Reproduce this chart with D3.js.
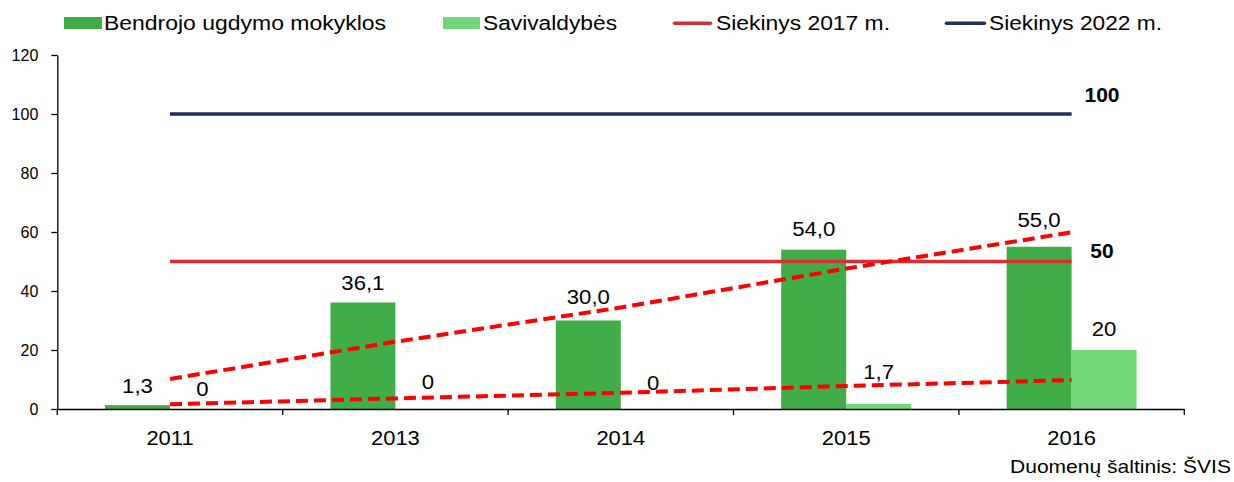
<!DOCTYPE html>
<html>
<head>
<meta charset="utf-8">
<script src="https://cdn.jsdelivr.net/npm/d3@7"></script>
<style>
  body { margin: 0; background: #fff; }
  text { font-family: "Liberation Sans", Arial, sans-serif; fill: #000; }
</style>
</head>
<body>
<svg id="chart" width="1234" height="482"></svg>
<script>
// data
var years = ["2011", "2013", "2014", "2015", "2016"];
var schools = [1.3, 36.1, 30.0, 54.0, 55.0];        // Bendrojo ugdymo mokyklos
var municipalities = [0, 0, 0, 1.7, 20];            // Savivaldybės
var schoolsLabels = ["1,3", "36,1", "30,0", "54,0", "55,0"];
var municipalitiesLabels = ["0", "0", "0", "1,7", "20"];
var schoolsTrend = [10.2, 22.8, 34.4, 47.6, 59.9];  // dashed trend
var municipalitiesTrend = [1.6, 3.6, 5.5, 7.8, 9.8];
var target2017 = 50;
var target2022 = 100;
var yTicks = [0, 20, 40, 60, 80, 100, 120];
var legendNames = ["Bendrojo ugdymo mokyklos", "Savivaldybės", "Siekinys 2017 m.", "Siekinys 2022 m."];

var DARK = "#41ad49", LIGHT = "#72d87a", RED = "#d92d36", NAVY = "#232d5f", TREND = "#ff0000";

var PLOT = { left: 57.3, right: 1184.3, top: 55, bottom: 409 };

// gap between bar top and its label (labels were nudged by hand in the original)
var schoolsGap = [12, 13, 17, 13.5, 20];
var municipalitiesGap = [13, 20, 19, 24.5, 14];

// the original renders its text a bit wider than Arial
function widen(sel, k) {
    sel.each(function() {
        var w = this.getComputedTextLength();
        d3.select(this).attr("textLength", w * k).attr("lengthAdjust", "spacingAndGlyphs");
    });
}

function main() {
    var svg = d3.select("#chart");

    var x = d3.scaleBand().domain(years).range([PLOT.left, PLOT.right]).padding(0);
    var sub = d3.scaleBand().domain(["a", "b"]).range([0, x.bandwidth()])
        .paddingInner(0).paddingOuter(0.734);
    var y = d3.scaleLinear().domain([0, 120]).range([PLOT.bottom, PLOT.top]);
    var cx = function(i) { return x(years[i]) + x.bandwidth() / 2; };

    // bars
    var g = svg.append("g");
    g.selectAll(".bar-a").data(schools).enter().append("rect")
        .attr("x", function(d, i) { return x(years[i]) + sub("a"); })
        .attr("y", function(d) { return y(d); })
        .attr("width", sub.bandwidth())
        .attr("height", function(d) { return y(0) - y(d); })
        .attr("fill", DARK);
    g.selectAll(".bar-b").data(municipalities).enter().append("rect")
        .attr("x", function(d, i) { return x(years[i]) + sub("b"); })
        .attr("y", function(d) { return y(d); })
        .attr("width", sub.bandwidth())
        .attr("height", function(d) { return y(0) - y(d); })
        .attr("fill", LIGHT);

    // target lines
    var first = cx(0), last = cx(years.length - 1);
    g.append("line").attr("x1", first).attr("x2", last)
        .attr("y1", y(target2022)).attr("y2", y(target2022))
        .attr("stroke", NAVY).attr("stroke-width", 3.5);
    g.append("line").attr("x1", first).attr("x2", last)
        .attr("y1", y(target2017)).attr("y2", y(target2017))
        .attr("stroke", RED).attr("stroke-width", 3.5);

    // trend lines
    var line = d3.line()
        .x(function(d, i) { return cx(i); })
        .y(function(d) { return y(d); });
    [schoolsTrend, municipalitiesTrend].forEach(function(t) {
        g.append("path").attr("d", line(t))
            .attr("fill", "none")
            .attr("stroke", TREND)
            .attr("stroke-width", 4)
            .attr("stroke-dasharray", "12,6");
    });

    // value labels
    var la = g.selectAll(".lab-a").data(schools).enter().append("text")
        .attr("x", function(d, i) { return x(years[i]) + sub("a") + sub.bandwidth() / 2; })
        .attr("y", function(d, i) { return y(d) - schoolsGap[i]; })
        .attr("text-anchor", "middle")
        .style("font-size", "20.5px")
        .text(function(d, i) { return schoolsLabels[i]; });
    var lb = g.selectAll(".lab-b").data(municipalities).enter().append("text")
        .attr("x", function(d, i) { return x(years[i]) + sub("b") + sub.bandwidth() / 2; })
        .attr("y", function(d, i) { return y(d) - municipalitiesGap[i]; })
        .attr("text-anchor", "middle")
        .style("font-size", "20.5px")
        .text(function(d, i) { return municipalitiesLabels[i]; });
    widen(la, 1.08);
    widen(lb, 1.08);

    // bold target values
    g.append("text").attr("x", 1102).attr("y", y(target2022) - 12.5)
        .attr("text-anchor", "middle").style("font-size", "21px").style("font-weight", "bold")
        .text(target2022);
    g.append("text").attr("x", 1102).attr("y", y(target2017) - 3.5)
        .attr("text-anchor", "middle").style("font-size", "21px").style("font-weight", "bold")
        .text(target2017);

    // y axis
    var yAxis = svg.append("g")
        .attr("transform", "translate(" + PLOT.left + ",0)")
        .call(d3.axisLeft(y).tickValues(yTicks).tickSize(6).tickSizeOuter(0).tickPadding(13));
    yAxis.selectAll("text").style("font-size", "16px")
        .style("font-family", "'Liberation Sans', Arial, sans-serif");
    yAxis.selectAll("line, path").attr("stroke", "#000").attr("stroke-width", 1.3);

    // x axis: labels at centres, ticks at category borders
    var xAxis = svg.append("g")
        .attr("transform", "translate(0," + PLOT.bottom + ")")
        .call(d3.axisBottom(x).tickSize(0).tickPadding(21));
    xAxis.select(".domain").attr("stroke", "#000").attr("stroke-width", 1.3);
    xAxis.selectAll("text").style("font-size", "20.5px")
        .style("font-family", "'Liberation Sans', Arial, sans-serif");
    widen(xAxis.selectAll("text"), 1.07);
    var borders = years.map(function(d) { return x(d); }).concat([PLOT.right]);
    xAxis.selectAll(".border").data(borders).enter().append("line")
        .attr("x1", function(d) { return d; }).attr("x2", function(d) { return d; })
        .attr("y1", 0).attr("y2", 6)
        .attr("stroke", "#000").attr("stroke-width", 1.3);

    addLegend(svg);

    svg.append("text")
        .attr("x", 1010).attr("y", 473)
        .attr("textLength", 221).attr("lengthAdjust", "spacingAndGlyphs")
        .style("font-size", "18.5px")
        .text("Duomenų šaltinis: ŠVIS");
}

function addLegend(svg) {
    var items = [
        { name: legendNames[0], type: "rect", color: DARK, x0: 64, x1: 102, tx: 104, tw: 282 },
        { name: legendNames[1], type: "rect", color: LIGHT, x0: 443, x1: 480, tx: 483, tw: 134 },
        { name: legendNames[2], type: "line", color: RED, x0: 673, x1: 712, tx: 716, tw: 174 },
        { name: legendNames[3], type: "line", color: NAVY, x0: 945, x1: 986, tx: 989, tw: 173 }
    ];
    var lg = svg.selectAll(".legend").data(items).enter().append("g").attr("class", "legend");
    lg.each(function(d) {
        var s = d3.select(this);
        if (d.type == "rect") {
            s.append("rect").attr("x", d.x0).attr("y", 17)
                .attr("width", d.x1 - d.x0).attr("height", 12).attr("fill", d.color);
        } else {
            s.append("line").attr("x1", d.x0 + 1.5).attr("x2", d.x1 - 1.5)
                .attr("y1", 23.3).attr("y2", 23.3)
                .attr("stroke", d.color).attr("stroke-width", 3.5)
                .attr("stroke-linecap", "round");
        }
        s.append("text").attr("x", d.tx).attr("y", 29.5)
            .attr("textLength", d.tw).attr("lengthAdjust", "spacingAndGlyphs")
            .style("font-size", "20px")
            .text(d.name);
    });
}

main();
</script>
</body>
</html>
